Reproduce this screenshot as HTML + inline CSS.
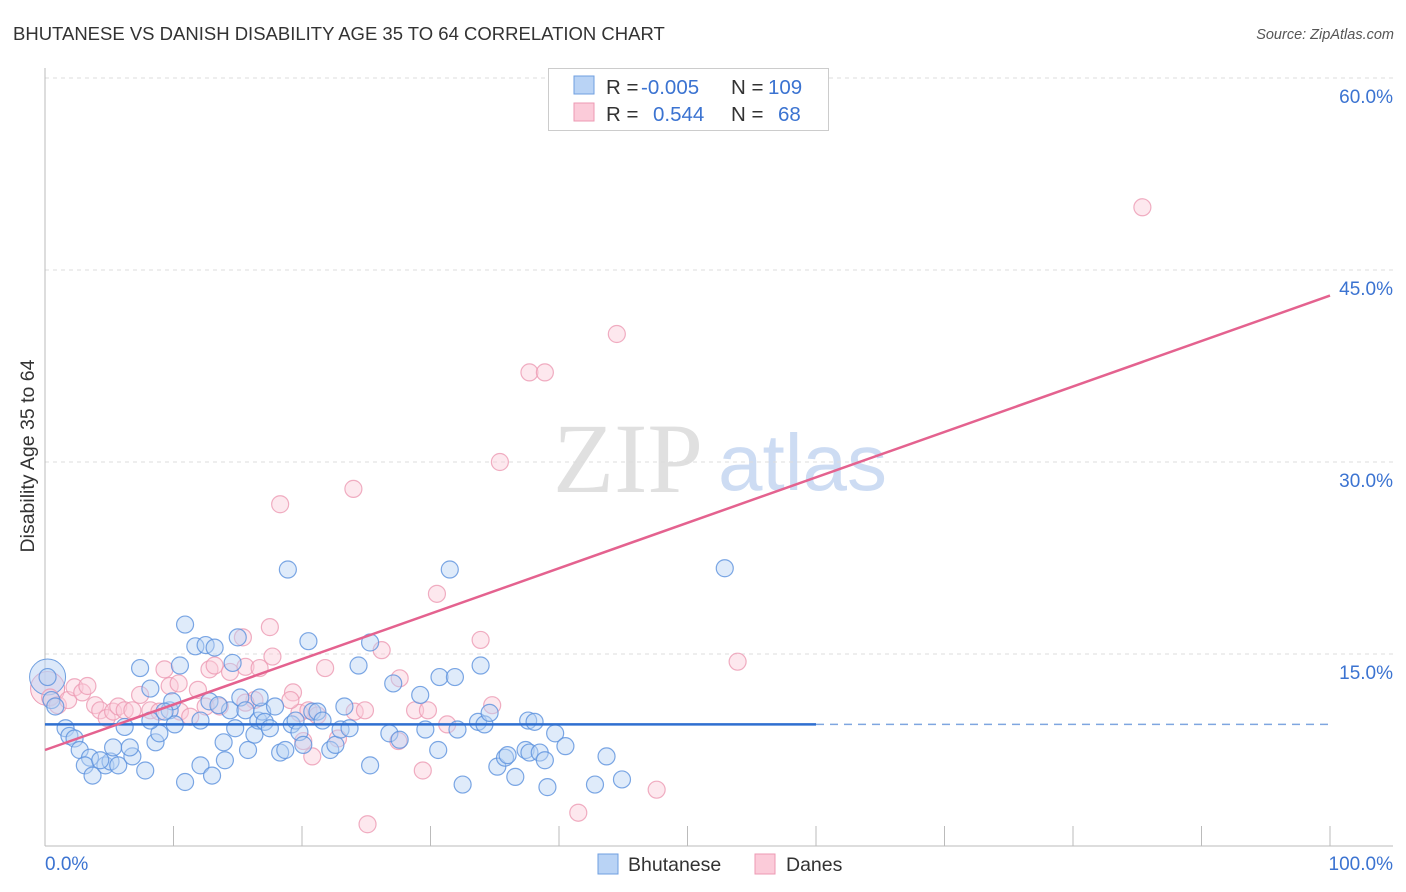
<!DOCTYPE html>
<html><head><meta charset="utf-8"><style>
body{margin:0;background:#fff;font-family:"Liberation Sans",sans-serif;}
svg{display:block}
</style></head><body>
<svg id="chart" width="1406" height="892">
<text x="13" y="40" font-size="18.5" fill="#333">BHUTANESE VS DANISH DISABILITY AGE 35 TO 64 CORRELATION CHART</text>
<text x="1394" y="39" font-size="14.5" fill="#555" font-style="italic" text-anchor="end">Source: ZipAtlas.com</text>
<text x="34" y="456" font-size="19.5" fill="#333" text-anchor="middle" transform="rotate(-90 34 456)">Disability Age 35 to 64</text>
<g><text x="553" y="492" font-size="100" font-family="Liberation Serif,serif" fill="#e0e0e0">ZIP</text><text x="718" y="490" font-size="80" fill="#cddcf3">atlas</text></g>
<g id="grid"></g><g id="axes"></g><g id="marks"></g>
<g>
<rect x="548.5" y="68.5" width="280" height="62" fill="#fff" stroke="#ccc"/>
<rect x="574" y="76" width="20" height="18" fill="#b9d3f5" stroke="#6f9fe0"/>
<rect x="574" y="103" width="20" height="18" fill="#fbcbd9" stroke="#ec9ab3"/>
<text x="606" y="94" font-size="20.5" fill="#333">R = <tspan x="641" fill="#3b73d1">-0.005</tspan><tspan x="731">N = </tspan><tspan x="768" fill="#3b73d1">109</tspan></text>
<text x="606" y="121" font-size="20.5" fill="#333">R = <tspan x="653" fill="#3b73d1">0.544</tspan><tspan x="731">N = </tspan><tspan x="778" fill="#3b73d1">68</tspan></text>
</g>
<g>
<rect x="598" y="854" width="20" height="20" fill="#b9d3f5" stroke="#6f9fe0"/>
<text x="628" y="871" font-size="19.5" fill="#333">Bhutanese</text>
<rect x="755" y="854" width="20" height="20" fill="#fbcbd9" stroke="#ec9ab3"/>
<text x="786" y="871" font-size="19.5" fill="#333">Danes</text>
</g>
</svg>
<script>
const yTicks=[15,30,45,60];
const yTickLabels=["15.0%","30.0%","45.0%","60.0%"];
const xTickLabels=["0.0%","100.0%"];
const blueX=[0.2,0.5,0.8,1.6,1.9,2.3,2.7,3.5,3.1,3.7,4.7,5.1,5.7,5.3,6.2,6.8,7.4,8.2,8.6,8.9,9.7,9.9,10.1,10.9,10.5,10.9,11.7,12.5,12.1,12.8,13.0,13.2,13.9,14.0,14.4,14.6,15.0,15.2,15.6,15.8,16.3,16.6,16.9,17.1,17.5,17.9,18.3,18.7,18.9,19.2,19.5,19.8,20.1,20.5,20.8,21.2,21.6,22.2,22.6,23.0,23.3,23.7,24.4,25.3,25.3,26.8,27.1,27.6,29.2,29.6,30.7,31.5,30.6,31.9,32.1,32.5,33.9,33.7,34.2,34.6,35.2,35.8,36.0,36.6,37.4,37.7,37.6,38.1,38.5,38.9,39.1,39.7,40.5,42.8,43.7,44.9,52.9,14.8,13.5,8.2,6.6,4.3,7.8,12.1,16.7,9.3];
const blueY=[13.2,11.4,10.9,9.2,8.6,8.4,7.5,6.9,6.3,5.5,6.3,6.6,6.3,7.7,9.3,7.0,13.9,12.3,8.1,8.8,10.6,11.3,9.5,17.3,14.1,5.0,15.6,15.7,6.3,11.3,5.5,15.5,8.1,6.7,10.6,14.3,16.3,11.6,10.6,7.5,8.7,9.8,10.5,9.7,9.2,10.9,7.3,7.5,21.6,9.5,9.8,8.9,7.9,16.0,10.5,10.5,9.8,7.5,7.9,9.1,10.9,9.2,14.1,15.9,6.3,8.8,12.7,8.3,11.8,9.1,13.2,21.6,7.5,13.2,9.1,4.8,14.1,9.7,9.5,10.4,6.2,6.9,7.1,5.4,7.5,7.3,9.8,9.7,7.3,6.7,4.6,8.8,7.8,4.8,7.0,5.2,21.7,9.2,11.0,9.8,7.7,6.7,5.9,9.8,11.6,10.5];
const pinkX=[0.4,1.0,1.8,2.3,2.9,3.3,3.9,4.3,4.8,5.3,5.7,6.2,6.8,7.4,8.2,8.9,9.3,9.7,10.4,10.5,11.3,11.9,12.5,12.8,13.2,13.6,14.4,15.6,15.4,16.3,16.7,17.5,17.7,18.3,19.3,19.8,20.1,20.5,20.8,21.2,21.8,22.8,24.0,24.1,24.9,26.2,27.5,27.6,28.8,29.4,29.8,30.5,31.3,33.9,34.8,35.4,37.7,38.9,41.5,44.5,47.6,53.9,85.4,25.1,45.8,15.6,19.1];
const pinkY=[11.6,11.0,11.4,12.4,12.0,12.5,11.0,10.6,10.0,10.5,10.9,10.6,10.6,11.8,10.6,10.5,13.8,12.5,12.7,10.5,10.1,12.2,10.9,13.8,14.1,10.9,13.6,14.0,16.3,11.4,13.9,17.1,14.8,26.7,12.0,10.4,8.2,10.6,7.0,10.2,13.9,8.4,27.9,10.5,10.6,15.3,8.2,13.1,10.6,5.9,10.6,19.7,9.5,16.1,11.0,30.0,37.0,37.0,2.6,40.0,4.4,14.4,49.9,1.7,57.8,11.2,11.4];
const blueTrend=[9.5,9.5];
const pinkTrend=[7.5,43.0];
const bigBlue=[0.2,13.2], bigPink=[0.2,12.3];

const X0=45,X1=1330,Y0=846,PXPER=12.8;
const sx=v=>X0+(X1-X0)*v/100, sy=v=>Y0-v*PXPER;
const NS="http://www.w3.org/2000/svg";
function mk(parent,tag,attrs){const e=document.createElementNS(NS,tag);for(const k in attrs)e.setAttribute(k,attrs[k]);parent.appendChild(e);return e;}
const grid=document.getElementById('grid'),axes=document.getElementById('axes'),marks=document.getElementById('marks');
yTicks.forEach((t,i)=>{
 const l=mk(grid,'line',{x1:45,x2:1393,y1:sy(t),y2:sy(t),stroke:'#ddd','stroke-dasharray':'4,4'});
 
 
 const tx=mk(axes,'text',{x:1393,y:sy(t)+25,'font-size':19,fill:'#3b73d1','text-anchor':'end'});tx.textContent=yTickLabels[i];
 
 
});
let a=mk(axes,'line',{x1:45,x2:45,y1:68,y2:846,stroke:'#bbb'});


a=mk(axes,'line',{x1:45,x2:1393,y1:846,y2:846,stroke:'#bbb'});


for(let k=0;k<=10;k++){const t=mk(axes,'line',{x1:sx(k*10),x2:sx(k*10),y1:826,y2:846,stroke:'#bbb'});
 
 }
let xl=mk(axes,'text',{x:45,y:870,'font-size':19,fill:'#3b73d1'});xl.textContent=xTickLabels[0];


xl=mk(axes,'text',{x:1393,y:870,'font-size':19,fill:'#3b73d1','text-anchor':'end'});xl.textContent=xTickLabels[1];


function dots(xs,ys,fill,stroke,name){xs.forEach((x,i)=>{const c=mk(marks,'circle',{cx:sx(x),cy:sy(ys[i]),r:8.5,fill:fill,'fill-opacity':0.45,stroke:stroke,'stroke-opacity':0.8,'stroke-width':1.2});
 
 });}
let b=mk(marks,'circle',{cx:sx(bigPink[0]),cy:sy(bigPink[1]),r:17,fill:'#fbcbd9','fill-opacity':0.5,stroke:'#ec9ab3'});


b=mk(marks,'circle',{cx:sx(bigBlue[0]),cy:sy(bigBlue[1]),r:18,fill:'#b9d3f5','fill-opacity':0.5,stroke:'#6f9fe0'});


dots(pinkX,pinkY,'#fbcbd9','#ec9ab3','danes-point');
dots(blueX,blueY,'#b9d3f5','#5b91dd','bhutanese-point');
let t=mk(marks,'line',{x1:sx(0),x2:sx(60),y1:sy(blueTrend[0]),y2:sy(blueTrend[0]+(blueTrend[1]-blueTrend[0])*0.6),stroke:'#2f6fd0','stroke-width':2.5});


t=mk(marks,'line',{x1:sx(60),x2:sx(100),y1:sy(blueTrend[0]+(blueTrend[1]-blueTrend[0])*0.6),y2:sy(blueTrend[1]),stroke:'#7fa6e0','stroke-width':1.5,'stroke-dasharray':'8,6'});


t=mk(marks,'line',{x1:sx(0),x2:sx(100),y1:sy(pinkTrend[0]),y2:sy(pinkTrend[1]),stroke:'#e4628f','stroke-width':2.5});


</script>
</body></html>
